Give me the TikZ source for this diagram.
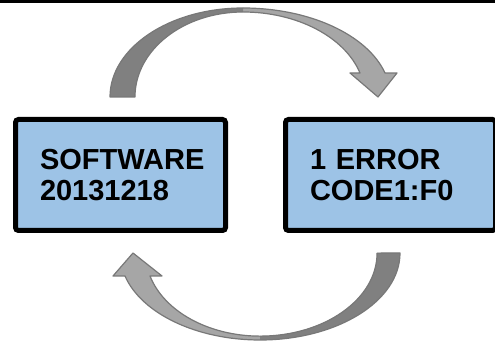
\documentclass[tikz,border=0pt]{standalone}
\usepackage{fontspec}
\setmainfont{Liberation Sans}
\definecolor{boxblue}{RGB}{157,195,230}
\definecolor{arrowdark}{RGB}{128,128,128}
\definecolor{arrowlight}{RGB}{166,166,166}
\definecolor{arrowedge}{RGB}{120,120,120}
\begin{document}
\begin{tikzpicture}[x=1pt,y=1pt,
  box/.style={draw=black, line width=5pt, rounded corners=3pt, fill=boxblue,
    minimum width=210pt, minimum height=111pt, text width=161pt,
    inner xsep=24.5pt, inner ysep=0pt, outer sep=0pt, align=left,
    font=\bfseries\fontsize{29}{31.5}\selectfont, anchor=south west},
  darkband/.style={fill=arrowdark},
  lightband/.style={fill=arrowlight},
  bandedge/.style={draw=arrowedge, line width=1.2pt, line join=round}]
\useasboundingbox (0,0) rectangle (495,345);
% top rule
\draw[line width=3pt] (0,343.5) -- (495,343.5);
% boxes
\node[box] (sw) at (15.5,114.5) {SOFTWARE\\20131218};
\node[box] (err) at (285.5,114.5) {1 ERROR\\CODE1:F0};
% top curved arrow
\path[lightband] (243,337) arc[start angle=90, end angle=15.6, x radius=147.5, y radius=89]
  -- (397,272) -- (378,248) -- (350,272) -- (360,272)
  arc[start angle=16.4, end angle=90, x radius=122, y radius=85] -- cycle;
\path[darkband] (110,248) arc[start angle=180, end angle=90, x radius=133, y radius=89]
  -- (243,333) arc[start angle=90, end angle=180, x radius=108, y radius=85] -- cycle;
\draw[bandedge] (110,248) arc[start angle=180, end angle=90, x radius=133, y radius=89]
  arc[start angle=90, end angle=15.6, x radius=147.5, y radius=89]
  -- (397,272) -- (378,248) -- (350,272) -- (360,272)
  arc[start angle=16.4, end angle=90, x radius=122, y radius=85]
  arc[start angle=90, end angle=180, x radius=108, y radius=85] -- cycle;
% bottom curved arrow
\path[lightband] (260,5) arc[start angle=-90, end angle=-164.7, x radius=140, y radius=87]
  -- (113,69) -- (133,92) -- (162,69) -- (150,69)
  arc[start angle=-164, end angle=-90, x radius=114.5, y radius=83] -- cycle;
\path[darkband] (400,92) arc[start angle=0, end angle=-90, x radius=140, y radius=87]
  -- (260,9) arc[start angle=-90, end angle=0, x radius=117, y radius=83] -- cycle;
\draw[bandedge] (400,92) arc[start angle=0, end angle=-90, x radius=140, y radius=87]
  arc[start angle=-90, end angle=-164.7, x radius=140, y radius=87]
  -- (113,69) -- (133,92) -- (162,69) -- (150,69)
  arc[start angle=-164, end angle=-90, x radius=114.5, y radius=83]
  arc[start angle=-90, end angle=0, x radius=117, y radius=83] -- cycle;
\end{tikzpicture}
\end{document}
